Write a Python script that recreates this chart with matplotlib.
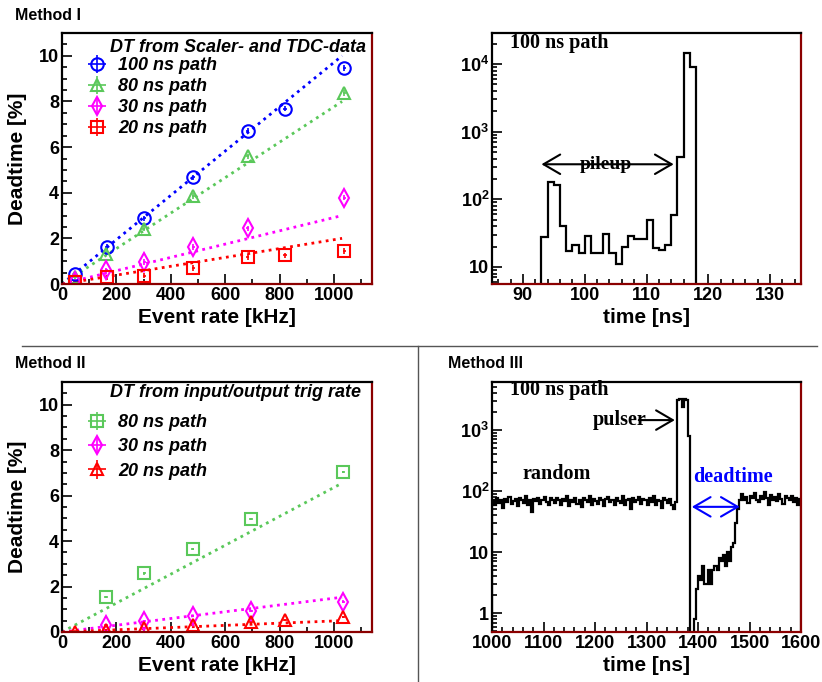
import numpy as np
import matplotlib
matplotlib.use('Agg')
import matplotlib.pyplot as plt
from matplotlib.lines import Line2D
from matplotlib.ticker import MultipleLocator, FixedLocator, LogLocator, FuncFormatter, NullFormatter

plt.rcParams['font.family'] = ['Liberation Sans', 'DejaVu Sans']
plt.rcParams['font.weight'] = 'bold'
plt.rcParams['axes.labelweight'] = 'bold'
plt.rcParams['mathtext.fontset'] = 'custom'
plt.rcParams['mathtext.rm'] = 'Liberation Sans:bold'
plt.rcParams['mathtext.bf'] = 'Liberation Sans:bold'

# ---- Method I : deadtime from scaler and TDC data
rate_1 = [48, 164, 303, 483, 683, 820, 1038]
dt_100 = [0.44, 1.63, 2.88, 4.67, 6.72, 7.68, 9.47]
rate_80 = [48, 163, 300, 483, 683, 1038]
dt_80 = [0.3, 1.33, 2.43, 3.85, 5.59, 8.37]
rate_30 = [48, 163, 303, 483, 683, 1038]
dt_30 = [0.12, 0.6, 0.97, 1.63, 2.44, 3.78]
dt_20 = [0.07, 0.29, 0.37, 0.71, 1.19, 1.25, 1.44]
fit_end_1 = [10.0, 8.0, 3.0, 2.0]   # fit lines value at 1030 kHz

# ---- Method II : deadtime from input/output trigger rate
rate_2 = [162, 303, 480, 695, 1034]
dt2_80 = [1.53, 2.58, 3.66, 4.98, 7.03]
dt2_30 = [0.31, 0.5, 0.72, 0.94, 1.34]
rate_2r = [48, 162, 303, 480, 695, 820, 1034]
dt2_20 = [0.02, 0.09, 0.16, 0.32, 0.45, 0.53, 0.67]
fit_end_2 = [6.55, 1.53, 0.5]
fit_x_end = 1030

# ---- 100 ns path time spectrum (1 ns bins from 93 ns)
t_start = 93
counts_t = [28, 180, 165, 40, 17, 21, 16, 29, 16, 16, 31, 16, 11, 20, 29, 26, 26,
            49, 19, 18, 21, 58, 420, 14500, 9000]

# ---- Method III : pulser + random spectrum (4 ns bins from 1000 ns)
random_before = [72, 58, 76, 64, 70, 52, 74, 66, 80, 62,
                 68, 74, 56, 78, 70, 64, 82, 60, 72, 46,
                 74, 68, 78, 62, 70, 80, 66, 58, 76, 70,
                 64, 76, 70, 60, 74, 68, 82, 56, 72, 66,
                 78, 62, 70, 54, 76, 72, 66, 84, 60, 74,
                 68, 62, 78, 70, 56, 74, 80, 66, 72, 60,
                 76, 68, 64, 82, 58, 70, 74, 50, 78, 66,
                 72, 80, 62, 74, 70, 58, 76, 66, 84, 60,
                 72, 68, 52, 78, 70, 64, 74, 60, 50, 66]
pulser = [3100, 3200, 2400, 3200, 3100, 800]
recovery = [0, 0, 0.8, 2.5, 4, 3.5, 6, 3, 3, 5, 3, 5, 6, 5, 8, 7, 9, 6, 10, 7,
            12, 14, 30, 50, 70]
random_after = [88, 72, 80, 64, 84, 76, 92, 70, 66, 82,
                74, 96, 78, 60, 86, 72, 80, 68, 90, 74,
                62, 82, 76, 70, 84, 66, 78, 58, 74]

blue = '#0000ff'
green = '#5ac85a'
magenta = '#ff00ff'
red = '#ff0000'
serif = ['Liberation Serif', 'DejaVu Serif']


def frame(ax):
    for s in ['top', 'left']:
        ax.spines[s].set_color('k')
        ax.spines[s].set_linewidth(1.6)
    for s in ['right', 'bottom']:
        ax.spines[s].set_color('#8b0000')
        ax.spines[s].set_linewidth(1.6)
    ax.tick_params(which='both', direction='in', top=False, right=False,
                   width=1.2, labelsize=13, pad=2)
    ax.tick_params(which='major', length=7)
    ax.tick_params(which='minor', length=3.5)


def logfmt(v, pos):
    if v == 1:
        return '1'
    if v == 10:
        return '10'
    return r'$\mathbf{10^{%d}}$' % round(np.log10(v))


fig = plt.figure(figsize=(8.22, 6.82), dpi=100)
ax1 = fig.add_axes([62/822, 1-284/682, 310/822, 251/682])
ax2 = fig.add_axes([492/822, 1-284/682, 309/822, 251/682])
ax3 = fig.add_axes([62/822, 1-632/682, 310/822, 250/682])
ax4 = fig.add_axes([492/822, 1-632/682, 309/822, 250/682])

dots = (0, (1, 1.6))
fx = np.array([0, fit_x_end])

# ---------- Method I
for yend, c in zip(fit_end_1, [blue, green, magenta, red]):
    ax1.plot(fx, fx / fit_x_end * yend, color=c, lw=2, ls=dots)
kw = dict(mfc='none', mew=1.5, ms=9, elinewidth=1.2, capsize=0, xerr=6, yerr=0.12, ls='none')
h1 = ax1.errorbar(rate_1, dt_100, fmt='o', color=blue, **kw)
h2 = ax1.errorbar(rate_80, dt_80, fmt='^', color=green, **kw)
h3 = ax1.errorbar(rate_30, dt_30, fmt='d', color=magenta, **kw)
h4 = ax1.errorbar(rate_1, dt_20, fmt='s', color=red, **kw)
ax1.legend([h1, h2, h3, h4], ['100 ns path', '80 ns path', '30 ns path', '20 ns path'],
           loc='upper left', bbox_to_anchor=(0.07, 0.903), frameon=False,
           prop=dict(style='italic', weight='bold', size=13), borderpad=0,
           borderaxespad=0, labelspacing=0.22, handlelength=1.5, handletextpad=0.4)
ax1.text(0.155, 0.944, 'DT from Scaler- and TDC-data', transform=ax1.transAxes,
         style='italic', fontsize=13, va='center', ha='left')
ax1.set_xlim(0, 1140)
ax1.set_ylim(0, 11)
ax1.xaxis.set_major_locator(MultipleLocator(200))
ax1.xaxis.set_minor_locator(MultipleLocator(100))
ax1.yaxis.set_major_locator(MultipleLocator(2))
ax1.yaxis.set_minor_locator(MultipleLocator(0.5))
ax1.set_xlabel('Event rate [kHz]', fontsize=15, labelpad=3)
ax1.set_ylabel('Deadtime [%]', fontsize=15, labelpad=9)
frame(ax1)

# ---------- 100 ns path spectrum
edges_t = t_start + np.arange(len(counts_t) + 1)
ax2.stairs(counts_t, edges_t, baseline=1e-3, color='k', lw=1.6)
ax2.set_yscale('log')
ax2.set_xlim(85, 135)
ax2.set_ylim(5.6, 28800)
ax2.yaxis.set_major_locator(FixedLocator([10, 100, 1000, 10000]))
ax2.yaxis.set_major_formatter(FuncFormatter(logfmt))
ax2.yaxis.set_minor_locator(LogLocator(base=10, subs=np.arange(2, 10), numticks=20))
ax2.yaxis.set_minor_formatter(NullFormatter())
ax2.xaxis.set_major_locator(MultipleLocator(10))
ax2.xaxis.set_minor_locator(MultipleLocator(2))
ax2.set_xlabel('time [ns]', fontsize=15, labelpad=3)
ax2.annotate('', xy=(93, 330), xytext=(114.4, 330),
             arrowprops=dict(arrowstyle='<->, head_length=0.6, head_width=0.35', color='k',
                             lw=1.5, shrinkA=0, shrinkB=0, mutation_scale=20))
ax2.text(103.5, 330, 'pileup', family=serif, fontsize=14, ha='center', va='center')
ax2.text(0.058, 0.96, '100 ns path', transform=ax2.transAxes, family=serif,
         fontsize=14.5, ha='left', va='center')
frame(ax2)

# ---------- Method II
for yend, c in zip(fit_end_2, [green, magenta, red]):
    ax3.plot(fx, fx / fit_x_end * yend, color=c, lw=2, ls=dots)
kw2 = dict(kw, yerr=0.05)
g1 = ax3.errorbar(rate_2, dt2_80, fmt='s', color=green, **kw2)
g2 = ax3.errorbar(rate_2, dt2_30, fmt='d', color=magenta, **kw2)
g3 = ax3.errorbar(rate_2r, dt2_20, fmt='^', color=red, **kw2)
ax3.legend([g1, g2, g3], ['80 ns path', '30 ns path', '20 ns path'],
           loc='upper left', bbox_to_anchor=(0.07, 0.872), frameon=False,
           prop=dict(style='italic', weight='bold', size=13), borderpad=0,
           borderaxespad=0, labelspacing=0.41, handlelength=1.5, handletextpad=0.4)
ax3.text(0.155, 0.956, 'DT from input/output trig rate', transform=ax3.transAxes,
         style='italic', fontsize=13, va='center', ha='left')
ax3.set_xlim(0, 1140)
ax3.set_ylim(0, 11)
ax3.xaxis.set_major_locator(MultipleLocator(200))
ax3.xaxis.set_minor_locator(MultipleLocator(100))
ax3.yaxis.set_major_locator(MultipleLocator(2))
ax3.yaxis.set_minor_locator(MultipleLocator(0.5))
ax3.set_xlabel('Event rate [kHz]', fontsize=15, labelpad=3)
ax3.set_ylabel('Deadtime [%]', fontsize=15, labelpad=9)
frame(ax3)

# ---------- Method III
counts_p = np.array(random_before + pulser + recovery + random_after, dtype=float)
edges_p = 1000 + 4 * np.arange(len(counts_p) + 1)
ax4.stairs(np.where(counts_p > 0, counts_p, 1e-3), edges_p, baseline=1e-3, color='k', lw=1.6)
ax4.set_yscale('log')
ax4.set_xlim(1000, 1600)
ax4.set_ylim(0.49, 6100)
ax4.yaxis.set_major_locator(FixedLocator([1, 10, 100, 1000]))
ax4.yaxis.set_major_formatter(FuncFormatter(logfmt))
ax4.yaxis.set_minor_locator(LogLocator(base=10, subs=np.arange(2, 10), numticks=20))
ax4.yaxis.set_minor_formatter(NullFormatter())
ax4.xaxis.set_major_locator(MultipleLocator(100))
ax4.xaxis.set_minor_locator(MultipleLocator(20))
ax4.set_xlabel('time [ns]', fontsize=15, labelpad=3)
ax4.text(0.058, 0.968, '100 ns path', transform=ax4.transAxes, family=serif,
         fontsize=14.5, ha='left', va='center')
ax4.text(1195, 1450, 'pulser', family=serif, fontsize=14.5, ha='left', va='center')
ax4.annotate('', xy=(1355, 1450), xytext=(1285, 1450),
             arrowprops=dict(arrowstyle='->, head_length=0.6, head_width=0.35', color='k',
                             lw=1.5, shrinkA=0, shrinkB=0, mutation_scale=20))
ax4.text(1060, 187, 'random', family=serif, fontsize=14.5, ha='left', va='center')
ax4.text(1390, 168, 'deadtime', family=serif, fontsize=14.5, color=blue, ha='left', va='center')
ax4.annotate('', xy=(1388, 55), xytext=(1481, 55),
             arrowprops=dict(arrowstyle='<->, head_length=0.6, head_width=0.35', color=blue,
                             lw=1.5, shrinkA=0, shrinkB=0, mutation_scale=20))
frame(ax4)

# panel labels and separators
fig.text(15/822, 1-15/682, 'Method I', fontsize=11.5, va='center', ha='left')
fig.text(15/822, 1-363/682, 'Method II', fontsize=11.5, va='center', ha='left')
fig.text(448/822, 1-363/682, 'Method III', fontsize=11.5, va='center', ha='left')
fig.add_artist(Line2D([22/822, 817/822], [1-345.7/682, 1-345.7/682],
                      transform=fig.transFigure, color='#555555', lw=1))
fig.add_artist(Line2D([418/822, 418/822], [0, 1-345.7/682],
                      transform=fig.transFigure, color='#555555', lw=1))

fig.savefig('out.png', dpi=100)
